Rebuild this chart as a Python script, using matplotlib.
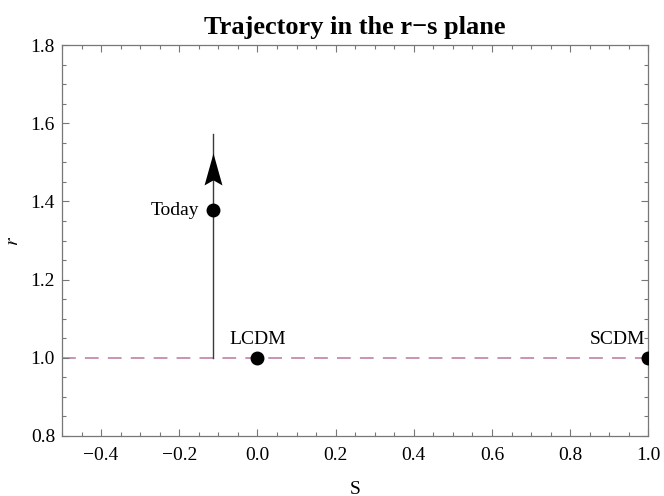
import matplotlib
matplotlib.use("Agg")
import matplotlib.pyplot as plt
from matplotlib.ticker import MultipleLocator, FormatStrFormatter
from matplotlib.path import Path

# trajectory (vertical segment in the r-s plane)
traj_s = [-0.1145, -0.1145]
traj_r = [1.0, 1.572]
arrow_tip = 1.523

# named points
pt_names = ["Today", "LCDM", "SCDM"]
pt_s = [-0.1145, 0.0, 1.0]
pt_r = [1.378, 1.0, 1.0]

plt.rcParams['font.family'] = ['Liberation Serif', 'DejaVu Serif']
plt.rcParams['mathtext.fontset'] = 'stix'

fig = plt.figure(figsize=(6.64, 4.96), dpi=100)
ax = fig.add_axes([0.0934, 0.121, 0.883, 0.788])

ax.axhline(1.0, color='#bb76a0', lw=1.1, ls=(0, (9, 6)), zorder=1)
ax.plot(traj_s, traj_r, color='#3a3a3a', lw=1.0, zorder=2)

# notched arrow head, tip at the origin of the marker
head = Path([(0, 0), (0.28, -1), (0, -0.84), (-0.28, -1), (0, 0)],
            [Path.MOVETO, Path.LINETO, Path.LINETO, Path.LINETO, Path.CLOSEPOLY])
ax.plot([traj_s[0]], [arrow_tip], marker=head, ms=46, color='black', mew=0, zorder=3)

ax.plot(pt_s, pt_r, 'o', color='black', ms=9, zorder=4, clip_on=True)

ax.annotate(pt_names[0], (pt_s[0], pt_r[0]), xytext=(-10, 0), textcoords='offset points',
            ha='right', va='center', fontsize=14)
ax.annotate(pt_names[1], (pt_s[1], pt_r[1]), xytext=(0, 7), textcoords='offset points',
            ha='center', va='bottom', fontsize=14)
ax.annotate(pt_names[2], (pt_s[2], pt_r[2]), xytext=(-2, 7), textcoords='offset points',
            ha='right', va='bottom', fontsize=14)

ax.set_xlim(-0.5, 1.0)
ax.set_ylim(0.8, 1.8)
ax.xaxis.set_major_locator(MultipleLocator(0.2))
ax.xaxis.set_minor_locator(MultipleLocator(0.05))
ax.yaxis.set_major_locator(MultipleLocator(0.2))
ax.yaxis.set_minor_locator(MultipleLocator(0.05))
ax.yaxis.set_major_formatter(FormatStrFormatter('%.1f'))
ax.tick_params(which='both', direction='in', top=True, right=True, color='#777777',
               labelsize=14)
ax.tick_params(which='major', length=5, width=0.8)
ax.tick_params(which='minor', length=3, width=0.8)
ax.tick_params(axis='x', pad=8)
ax.tick_params(axis='y', pad=5)
for sp in ax.spines.values():
    sp.set_color('#777777')
    sp.set_linewidth(0.9)

# minus signs as in the original
ax.set_xticks(ax.get_xticks())
ax.set_xticklabels([f"{v:.1f}".replace('-', '\u2212') for v in ax.get_xticks()])
ax.set_xlim(-0.5, 1.0)

ax.set_xlabel('S', fontsize=14)
ax.xaxis.set_label_coords(0.5, -0.114)
ax.set_ylabel('$r$', fontsize=14)
ax.yaxis.set_label_coords(-0.068, 0.5)
ax.set_title('Trajectory in the r\u2212s plane', fontsize=19, fontweight='bold', pad=8)

fig.savefig('out.png', dpi=100)
